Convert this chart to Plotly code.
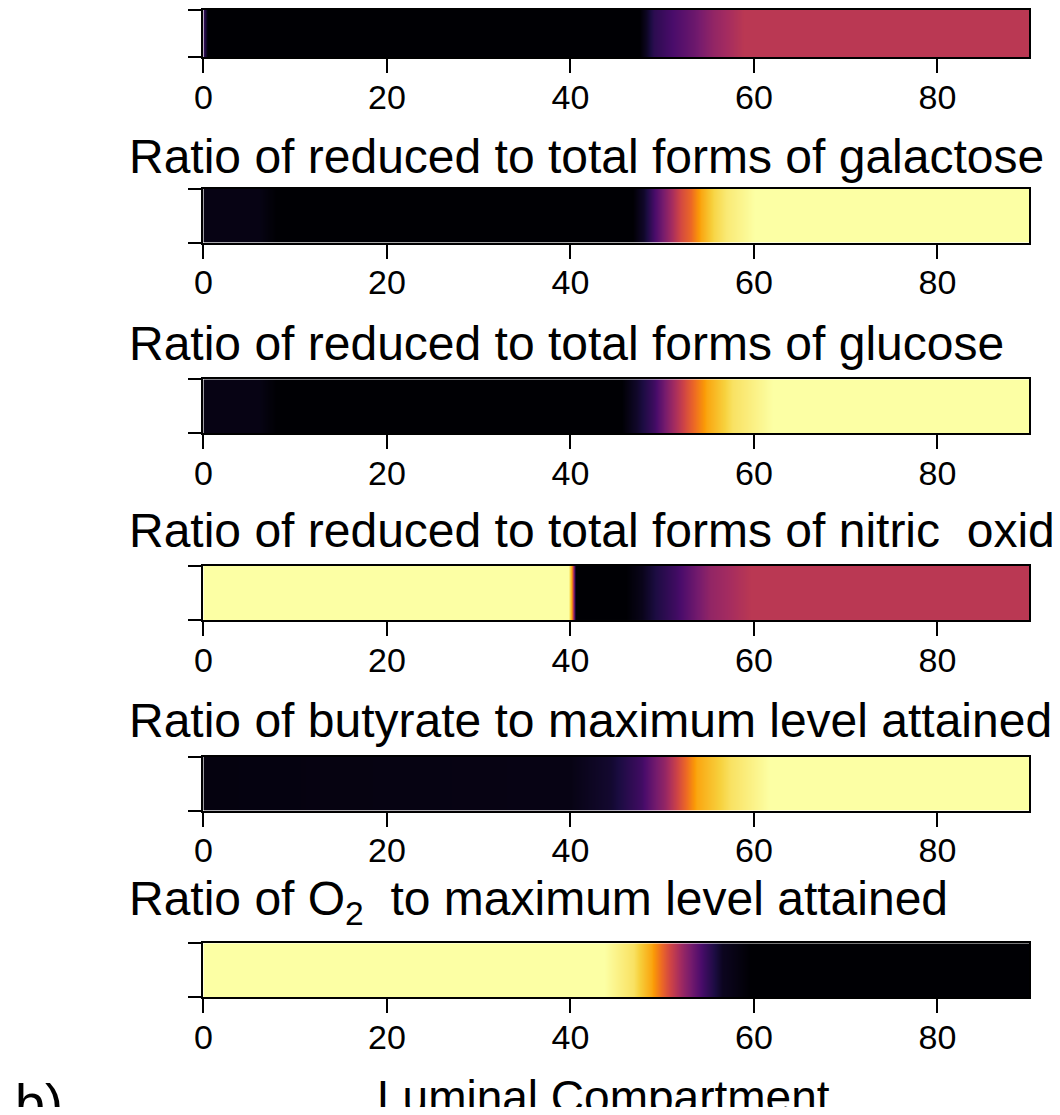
"""Luminal compartment ratio strips (inferno heatmaps)."""

import plotly.graph_objects as go

# positions along the luminal compartment, and the ratio read at each point
top_x = [0, 0.4, 47.5, 48.2, 49, 50.5, 53.4, 55.6, 58.8, 90]
top_z = [0.18, 0, 0, 0.05, 0.15, 0.2, 0.3, 0.4, 0.5, 0.5]

galactose_x = [0, 6, 8, 46.8, 48, 49.1, 50.9, 52, 53.1, 54.2, 55.6, 57, 60, 90]
galactose_z = [0.03, 0.03, 0, 0, 0.07, 0.22, 0.43, 0.57, 0.66, 0.8, 0.9, 0.95, 1, 1]

glucose_x = [0, 6, 8, 45.5, 47.2, 49.1, 50.9, 52.7, 54.8, 57.7, 62, 90]
glucose_z = [0.03, 0.03, 0, 0, 0.07, 0.2, 0.4, 0.6, 0.8, 0.93, 1, 1]

nitric_x = [0, 39.8, 40.1, 40.5, 46, 47.7, 49.4, 51.6, 53.4, 55.2, 57.4, 59.6, 90]
nitric_z = [1, 1, 0.8, 0, 0, 0.04, 0.12, 0.2, 0.3, 0.4, 0.45, 0.5, 0.5]

butyrate_x = [0, 40, 44.4, 47.7, 50.2, 52, 53.7, 57.4, 61.7, 90]
butyrate_z = [0.02, 0.03, 0.08, 0.2, 0.4, 0.6, 0.8, 0.93, 1, 1]

o2_x = [0, 43.7, 46.9, 48.8, 50.5, 52.3, 54.5, 56.6, 59.6, 90]
o2_z = [1, 1, 0.93, 0.8, 0.6, 0.4, 0.2, 0.05, 0, 0]

titles = [
    None,
    "Ratio of reduced to total forms of galactose",
    "Ratio of reduced to total forms of glucose",
    "Ratio of reduced to total forms of nitric\u00a0\u00a0oxide",
    "Ratio of butyrate to maximum level attained",
    "Ratio of O<sub>2</sub>\u00a0\u00a0to maximum level attained",
]
x_ticks = [0, 20, 40, 60, 80]

panels = [
    (top_x, top_z),
    (galactose_x, galactose_z),
    (glucose_x, glucose_z),
    (nitric_x, nitric_z),
    (butyrate_x, butyrate_z),
    (o2_x, o2_z),
]

# the page body has an 8px margin, so the figure is a bit smaller than the window
PAD = 8
W, H = 1060 - 2 * PAD, 1115 - 2 * PAD
FONT = "Liberation Sans, Arial, sans-serif"
strip_tops = [1, 187, 378, 565, 756, 943]
title_gaps = [0, 32, 36, 36, 36, 41]
strip_h = 54
x_left, x_right = 196, 1029


def px_(X):
    return (X - PAD) / W


def py(Y):
    return min(1.0, 1 - (Y - PAD) / H)


fig = go.Figure()
annotations = []
layout = {}

for i, (xs, zs) in enumerate(panels):
    n = "" if i == 0 else str(i + 1)
    fig.add_trace(go.Heatmap(
        x=xs,
        y=[0, 1],
        z=[zs, zs],
        zmin=0,
        zmax=1,
        zsmooth="best",
        colorscale="Inferno",
        showscale=False,
        xaxis="x" + n,
        yaxis="y" + n,
        hoverinfo="skip",
    ))
    top = strip_tops[i]
    layout["xaxis" + n] = dict(
        domain=[px_(x_left), px_(x_right)],
        range=[0, 90],
        anchor="y" + n,
        tickvals=x_ticks,
        ticks="outside",
        ticklen=14,
        tickwidth=2,
        tickcolor="black",
        ticklabelstandoff=-5,
        showline=True,
        linecolor="black",
        linewidth=2,
        mirror=True,
        showgrid=False,
        zeroline=False,
        tickfont=dict(family=FONT, size=34, color="black"),
    )
    layout["yaxis" + n] = dict(
        domain=[py(top + strip_h), py(top)],
        range=[-0.5, 1.5],
        anchor="x" + n,
        tickvals=[-0.5, 1.5],
        ticks="outside",
        ticklen=13,
        tickwidth=2,
        tickcolor="black",
        showticklabels=False,
        showline=True,
        linecolor="black",
        linewidth=2,
        mirror=True,
        showgrid=False,
        zeroline=False,
    )
    if titles[i]:
        annotations.append(dict(
            text=titles[i],
            xref="paper", yref="paper",
            x=px_(119), y=py(top - title_gaps[i]),
            xanchor="left", yanchor="middle",
            showarrow=False,
            font=dict(family=FONT, size=48, color="black"),
        ))

annotations.append(dict(
    text="Luminal Compartment",
    xref="paper", yref="paper",
    x=px_(600), y=py(1097),
    xanchor="center", yanchor="middle",
    showarrow=False,
    font=dict(family=FONT, size=46, color="black"),
))
annotations.append(dict(
    text="b)",
    xref="paper", yref="paper",
    x=px_(4), y=py(1071),
    xanchor="left", yanchor="top",
    showarrow=False,
    font=dict(family=FONT, size=54, color="black"),
))

fig.update_layout(
    width=W,
    height=H,
    margin=dict(l=0, r=0, t=0, b=0),
    paper_bgcolor="white",
    plot_bgcolor="white",
    showlegend=False,
    annotations=annotations,
    **layout,
)

fig.write_html("out.html")
